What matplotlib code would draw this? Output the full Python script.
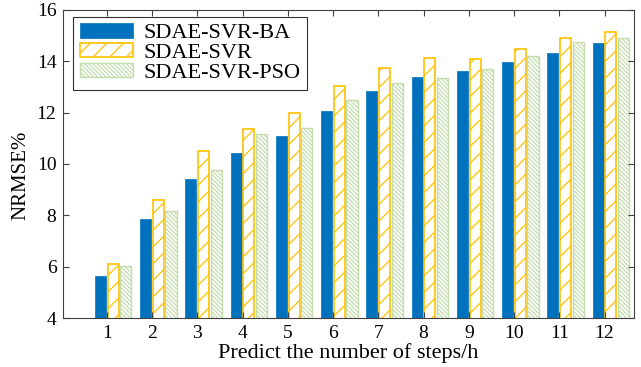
import numpy as np
import matplotlib.pyplot as plt

plt.rcParams['font.family'] = ['Liberation Serif', 'DejaVu Serif']
plt.rcParams['hatch.linewidth'] = 0.9

# prediction horizon (steps/h) and NRMSE% of each model
steps = [1, 2, 3, 4, 5, 6, 7, 8, 9, 10, 11, 12]
svr_ba = [5.63, 7.84, 9.40, 10.41, 11.11, 12.08, 12.85, 13.40, 13.63, 13.98, 14.33, 14.72]
svr = [6.12, 8.61, 10.51, 11.38, 11.99, 13.04, 13.74, 14.14, 14.09, 14.47, 14.90, 15.13]
svr_pso = [6.02, 8.16, 9.75, 11.18, 11.41, 12.50, 13.15, 13.36, 13.72, 14.21, 14.75, 14.90]

blue = '#0072BD'
gold = '#FFC000'
green = '#C5DDAE'

fig = plt.figure(figsize=(6.41, 3.67), dpi=100)
ax = fig.add_axes([0.0988, 0.1335, 0.8902, 0.8393])

x = np.array(steps, dtype=float) + 0.14
w = 0.245
d = 0.28
ax.bar(x - d, svr_ba, w, color=blue, edgecolor=blue, linewidth=0.5,
       label='SDAE-SVR-BA')
ax.bar(x, svr, w, color='white', edgecolor=gold, hatch='//', linewidth=1.2,
       label='SDAE-SVR')
ax.bar(x + d, svr_pso, w, color='white', edgecolor=green,
       hatch='\\\\\\\\\\\\\\\\', linewidth=1.0, label='SDAE-SVR-PSO')

ax.set_xlim(0.04, 12.65)
ax.set_ylim(4, 16)
ax.set_xticks(steps)
ax.set_yticks([4, 6, 8, 10, 12, 14, 16])
ax.tick_params(direction='in', top=True, right=True, labelsize=14, length=4,
               color='#404040', pad=5)
for s in ax.spines.values():
    s.set_color('#404040')
    s.set_linewidth(0.8)

ax.set_xlabel('Predict the number of steps/h', fontsize=16, labelpad=1)
ax.set_ylabel('NRMSE%', fontsize=15)
ax.yaxis.set_label_coords(-0.058, 0.464)

leg = ax.legend(loc='upper left', bbox_to_anchor=(0.0175, 0.978), borderaxespad=0,
                fontsize=16, fancybox=False, framealpha=1, edgecolor='#303030',
                handlelength=2.4, handleheight=0.6, labelspacing=0.0,
                handletextpad=0.45, borderpad=0.3)
leg.get_frame().set_linewidth(0.8)

fig.savefig('out.png', dpi=100)
